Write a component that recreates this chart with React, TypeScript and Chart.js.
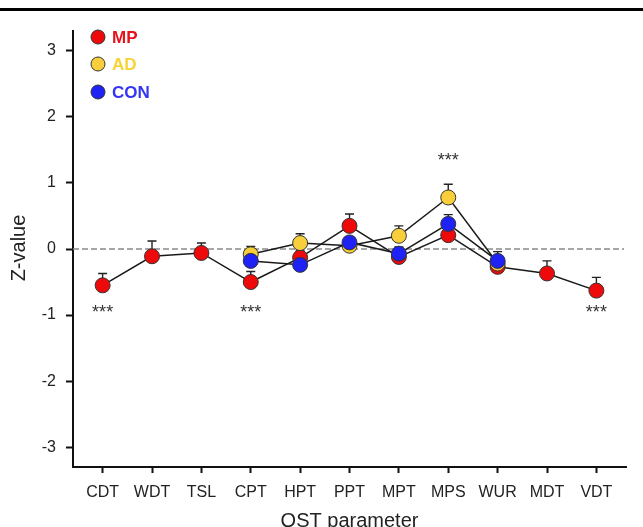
import React, { useEffect, useRef } from "react";
import { Chart, registerables } from "chart.js";

Chart.register(...registerables);

const categories = ["CDT", "WDT", "TSL", "CPT", "HPT", "PPT", "MPT", "MPS", "WUR", "MDT", "VDT"];
const yTicks = [-3, -2, -1, 0, 1, 2, 3];

const mpIndices = [0, 1, 2, 3, 4, 5, 6, 7, 8, 9, 10];
const mpValues = [-0.55, -0.11, -0.06, -0.5, -0.13, 0.35, -0.12, 0.21, -0.27, -0.37, -0.63];
const mpErrors = [0.18, 0.23, 0.15, 0.16, 0.1, 0.18, 0.08, 0.08, 0.06, 0.19, 0.2];

const adIndices = [3, 4, 5, 6, 7, 8];
const adValues = [-0.08, 0.09, 0.05, 0.2, 0.78, -0.22];
const adErrors = [0.12, 0.14, 0.08, 0.15, 0.2, 0.1];

const conIndices = [3, 4, 5, 6, 7, 8];
const conValues = [-0.18, -0.24, 0.1, -0.07, 0.38, -0.18];
const conErrors = [0.08, 0.08, 0.08, 0.1, 0.14, 0.14];

const sigIndices = [0, 3, 7, 10];
const sigLevels = [-0.93, -0.93, 1.38, -0.93];
const sigLabels = ["***", "***", "***", "***"];

const seriesNames = ["MP", "AD", "CON"];
const pointColors = ["#ee0a0a", "#f8cf3a", "#1e22f5"];
const textColors = ["#e3141c", "#f7d335", "#3434f5"];

const FONT = "'Liberation Sans', Arial, Helvetica, sans-serif";

function pts(idx: number[], vals: number[]) {
  return idx.map((x, i) => ({ x, y: vals[i] }));
}

export default function App() {
  const ref = useRef<HTMLCanvasElement | null>(null);

  useEffect(() => {
    if (!ref.current) return;
    const errs = [mpErrors, adErrors, conErrors];

    const overlay = {
      id: "overlay",
      beforeDatasetsDraw(chart: any) {
        const { ctx, chartArea, scales } = chart;
        const xs = scales.x;
        const ys = scales.y;
        ctx.save();
        ctx.strokeStyle = "#8a8a8a";
        ctx.lineWidth = 1.5;
        ctx.setLineDash([6, 3]);
        ctx.beginPath();
        ctx.moveTo(chartArea.left, ys.getPixelForValue(0));
        ctx.lineTo(chartArea.right - 2, ys.getPixelForValue(0));
        ctx.stroke();
        ctx.setLineDash([]);
        ctx.strokeStyle = "#222";
        ctx.lineWidth = 1.4;
        chart.data.datasets.forEach((ds: any, di: number) => {
          ds.data.forEach((p: any, i: number) => {
            const e = errs[di][i];
            const px = xs.getPixelForValue(p.x);
            const py = ys.getPixelForValue(p.y);
            const pt = ys.getPixelForValue(p.y + e);
            ctx.beginPath();
            ctx.moveTo(px, py);
            ctx.lineTo(px, pt);
            ctx.moveTo(px - 4.5, pt);
            ctx.lineTo(px + 4.5, pt);
            ctx.stroke();
          });
        });
        ctx.restore();
      },
      afterDraw(chart: any) {
        const { ctx, chartArea, scales } = chart;
        const xs = scales.x;
        const ys = scales.y;
        ctx.save();
        ctx.fillStyle = "#333";
        ctx.font = `18px ${FONT}`;
        ctx.textAlign = "center";
        ctx.textBaseline = "middle";
        sigIndices.forEach((xi, i) => {
          ctx.fillText(sigLabels[i], xs.getPixelForValue(xi), ys.getPixelForValue(sigLevels[i]) + 3);
        });
        const lx = 98;
        const ly = [37, 64, 92];
        seriesNames.forEach((n, i) => {
          ctx.beginPath();
          ctx.arc(lx, ly[i], 7, 0, Math.PI * 2);
          ctx.fillStyle = pointColors[i];
          ctx.fill();
          ctx.strokeStyle = "#333";
          ctx.lineWidth = 1;
          ctx.stroke();
          ctx.fillStyle = textColors[i];
          ctx.font = `bold 17px ${FONT}`;
          ctx.textAlign = "left";
          ctx.textBaseline = "middle";
          ctx.fillText(n, lx + 14, ly[i] + 1);
        });
        ctx.fillStyle = "#222";
        ctx.font = `20px ${FONT}`;
        ctx.textAlign = "center";
        ctx.textBaseline = "middle";
        ctx.fillText("QST parameter", (chartArea.left + chartArea.right) / 2, 521);
        ctx.translate(19, 248);
        ctx.rotate(-Math.PI / 2);
        ctx.fillText("Z-value", 0, 0);
        ctx.restore();
      },
    };

    const mk = (label: string, data: any[], i: number, order: number) => ({
      label,
      data,
      order,
      borderColor: "#1a1a1a",
      borderWidth: 1.5,
      pointRadius: 7.5,
      pointHoverRadius: 7.5,
      pointBackgroundColor: pointColors[i],
      pointBorderColor: "#333",
      pointBorderWidth: 1,
      showLine: true,
      fill: false,
      tension: 0,
    });

    const chart = new Chart(ref.current, {
      type: "scatter",
      data: {
        datasets: [
          mk("MP", pts(mpIndices, mpValues), 0, 3),
          mk("AD", pts(adIndices, adValues), 1, 2),
          mk("CON", pts(conIndices, conValues), 2, 1),
        ],
      },
      options: {
        responsive: false,
        animation: false,
        layout: { padding: { top: 31, right: 17, left: 0, bottom: 0 } },
        plugins: { legend: { display: false }, tooltip: { enabled: false } },
        scales: {
          x: {
            type: "linear",
            min: -0.6,
            max: 10.6,
            afterFit: (s: any) => { s.height = 60; },
            afterBuildTicks: (s: any) => { s.ticks = categories.map((_, i) => ({ value: i })); },
            ticks: {
              color: "#222",
              font: { family: FONT, size: 16 },
              padding: 10,
              maxRotation: 0,
              autoSkip: false,
              callback: (v: any) => categories[Math.round(Number(v))] ?? "",
            },
            grid: { display: true, drawOnChartArea: false, drawTicks: true, tickLength: 6, tickWidth: 2, tickColor: "#111" },
            border: { display: true, color: "#111", width: 2 },
          },
          y: {
            type: "linear",
            min: -3.3,
            max: 3.3,
            afterFit: (s: any) => { s.width = 73; },
            afterBuildTicks: (s: any) => { s.ticks = yTicks.map((v) => ({ value: v })); },
            ticks: {
              color: "#222",
              font: { family: FONT, size: 16 },
              padding: 10,
              callback: (v: any) => String(v),
            },
            grid: { display: true, drawOnChartArea: false, drawTicks: true, tickLength: 7, tickWidth: 2, tickColor: "#111" },
            border: { display: true, color: "#111", width: 2 },
          },
        },
      },
      plugins: [overlay],
    });
    return () => chart.destroy();
  }, []);

  return (
    <div style={{ position: "absolute", left: 0, top: 0, width: 643, height: 527, overflow: "hidden", background: "#fff" }}>
      <div style={{ position: "absolute", left: 0, top: 8, width: 643, height: 3, background: "#000" }} />
      <canvas ref={ref} width={643} height={527} style={{ position: "absolute", left: 0, top: 0 }} />
    </div>
  );
}
